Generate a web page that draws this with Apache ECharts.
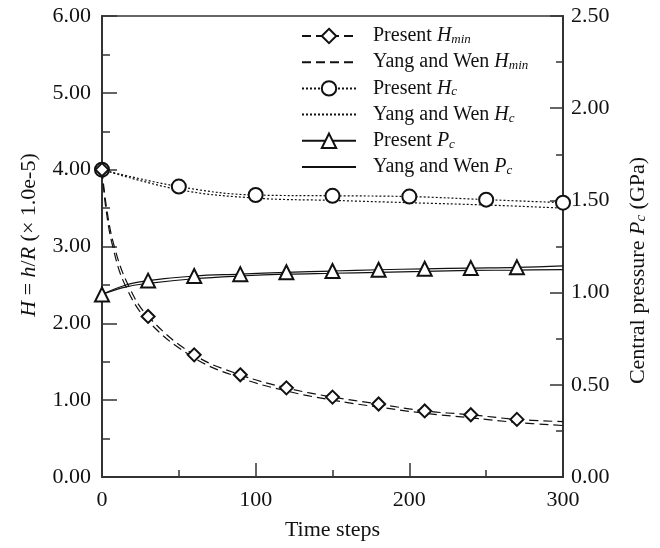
<!DOCTYPE html>
<html>
<head>
<meta charset="utf-8">
<script src="https://cdn.jsdelivr.net/npm/echarts@6/dist/echarts.min.js"></script>
<style>
  html, body { margin: 0; padding: 0; background: #fff; }
  #main { width: 660px; height: 548px; }
</style>
</head>
<body>
<div id="main"></div>
<script>
// 数据
var hminPresentT = [0, 3, 8, 17, 30, 60, 90, 120, 150, 180, 210, 240, 270, 300];
var hminPresent  = [4.00, 3.50, 3.00, 2.50, 2.09, 1.59, 1.33, 1.16, 1.04, 0.95, 0.86, 0.81, 0.75, 0.72];
var hminMarkT    = [0, 30, 60, 90, 120, 150, 180, 210, 240, 270];

var hminYangT = [0, 2.5, 7, 15, 30, 60, 90, 120, 150, 180, 210, 240, 270, 300];
var hminYang  = [4.00, 3.50, 3.00, 2.50, 2.03, 1.55, 1.29, 1.12, 1.00, 0.91, 0.83, 0.77, 0.71, 0.67];

var hcPresentT = [0, 50, 100, 150, 200, 250, 300];
var hcPresent  = [4.00, 3.78, 3.67, 3.66, 3.65, 3.61, 3.57];

var hcYangT = [0, 50, 100, 150, 200, 250, 300];
var hcYang  = [4.00, 3.74, 3.63, 3.60, 3.57, 3.54, 3.50];

var pcPresentT = [0, 15, 30, 60, 90, 120, 150, 180, 210, 240, 270, 300];
var pcPresent  = [0.99, 1.04, 1.065, 1.09, 1.10, 1.11, 1.117, 1.124, 1.129, 1.133, 1.137, 1.145];
var pcMarkT    = [0, 30, 60, 90, 120, 150, 180, 210, 240, 270];

var pcYangT = [0, 15, 30, 60, 90, 120, 150, 180, 210, 240, 270, 300];
var pcYang  = [0.99, 1.03, 1.05, 1.075, 1.09, 1.10, 1.105, 1.11, 1.115, 1.12, 1.122, 1.125];

var xTicks = [0, 100, 200, 300];

var FONT = 'Liberation Serif';
var INK = '#111';

function pairs(ts, vs, markT, sym) {
    return ts.map(function (t, i) {
        var item = { value: [t, vs[i]] };
        if (markT) item.symbol = markT.indexOf(t) >= 0 ? sym : 'none';
        return item;
    });
}

function richText(size) {
    return {
        i: { fontFamily: FONT, fontStyle: 'italic', fontSize: size, color: INK },
        s: { fontFamily: FONT, fontStyle: 'italic', fontSize: Math.round(size * 0.66), color: INK, verticalAlign: 'bottom', lineHeight: 12 }
    };
}

var legendLabels = {
    'Present Hmin': 'Present {i|H}{s|min}',
    'Yang and Wen Hmin': 'Yang and Wen {i|H}{s|min}',
    'Present Hc': 'Present {i|H}{s|c}',
    'Yang and Wen Hc': 'Yang and Wen {i|H}{s|c}',
    'Present Pc': 'Present {i|P}{s|c}',
    'Yang and Wen Pc': 'Yang and Wen {i|P}{s|c}'
};

var myChart = echarts.init(document.getElementById('main'));

var markerStyle = { color: '#fff', borderColor: INK, borderWidth: 2 };
// 无标记的系列: 图例里也不画点
var noMark = { color: 'rgba(0,0,0,0)', borderWidth: 0 };

option = {
    backgroundColor: '#fff',
    animation: false,
    grid: {
        left: 102, right: 97, top: 16, bottom: 71,
        show: true, borderColor: '#333', borderWidth: 1.5, backgroundColor: 'transparent'
    },
    legend: {
        orient: 'vertical',
        left: 296,
        top: 21,
        itemWidth: 54,
        itemHeight: 18,
        itemGap: 6.2,
        data: ['Present Hmin', 'Yang and Wen Hmin', 'Present Hc', 'Yang and Wen Hc', 'Present Pc', 'Yang and Wen Pc'],
        formatter: function (name) { return legendLabels[name]; },
        textStyle: {
            fontFamily: FONT, fontSize: 20, color: INK,
            padding: [0, 0, 0, 12],
            lineHeight: 20,
            rich: richText(20)
        }
    },
    xAxis: {
        type: 'value',
        min: 0, max: 300, interval: 100,
        name: 'Time steps',
        nameLocation: 'middle',
        nameGap: 42,
        nameTextStyle: { fontFamily: FONT, fontSize: 22, color: INK },
        axisLine: { lineStyle: { color: '#333', width: 2 } },
        axisTick: { inside: true, length: 14, lineStyle: { color: '#333', width: 1.5 } },
        minorTick: { show: true, splitNumber: 2, length: 7, lineStyle: { color: '#333', width: 1.5 } },
        splitLine: { show: false },
        axisLabel: {
            fontFamily: FONT, fontSize: 22, color: INK, margin: 12,
            customValues: xTicks
        }
    },
    yAxis: [{
        type: 'value',
        min: 0, max: 6, interval: 1,
        name: '{i|H} = {i|h}/{i|R} (× 1.0e-5)',
        nameLocation: 'middle',
        nameGap: 62,
        nameTextStyle: { fontFamily: FONT, fontSize: 22, color: INK, rich: richText(22), padding: [0, 0, 0, 23] },
        axisLine: { show: true, lineStyle: { color: '#333', width: 2 } },
        axisTick: { inside: true, length: 15, lineStyle: { color: '#333', width: 1.5 } },
        minorTick: { show: true, splitNumber: 2, length: 8, lineStyle: { color: '#333', width: 1.5 } },
        splitLine: { show: false },
        axisLabel: {
            fontFamily: FONT, fontSize: 22, color: INK, margin: 11,
            formatter: function (v) { return v.toFixed(2); }
        }
    }, {
        type: 'value',
        position: 'right',
        min: 0, max: 2.5, interval: 0.5,
        name: 'Central pressure {i|P}{s|c} (GPa)',
        nameLocation: 'middle',
        nameGap: 64,
        nameRotate: 90,
        nameTextStyle: { fontFamily: FONT, fontSize: 22, color: INK, rich: richText(22), padding: [0, 48, 0, 0] },
        axisLine: { show: true, lineStyle: { color: '#333', width: 2 } },
        axisTick: { inside: true, length: 13, lineStyle: { color: '#333', width: 1.5 } },
        minorTick: { show: true, splitNumber: 2, length: 7, lineStyle: { color: '#333', width: 1.5 } },
        splitLine: { show: false },
        axisLabel: {
            fontFamily: FONT, fontSize: 22, color: INK, margin: 8,
            formatter: function (v) { return v.toFixed(2); }
        }
    }],
    series: [{
        name: 'Present Hmin',
        type: 'line',
        smooth: 0.4,
        symbol: 'diamond',
        symbolSize: 13,
        itemStyle: markerStyle,
        lineStyle: { color: INK, width: 1.2, type: [9, 5] },
        data: pairs(hminPresentT, hminPresent, hminMarkT, 'diamond'),
        z: 5
    }, {
        name: 'Yang and Wen Hmin',
        type: 'line',
        smooth: 0.4,
        symbol: 'none',
        itemStyle: noMark,
        lineStyle: { color: INK, width: 1.2, type: [9, 5] },
        data: pairs(hminYangT, hminYang)
    }, {
        name: 'Present Hc',
        type: 'line',
        smooth: 0.4,
        symbol: 'circle',
        symbolSize: 14,
        itemStyle: markerStyle,
        lineStyle: { color: INK, width: 1.2, type: [2, 2] },
        data: pairs(hcPresentT, hcPresent),
        z: 4
    }, {
        name: 'Yang and Wen Hc',
        type: 'line',
        smooth: 0.4,
        symbol: 'none',
        itemStyle: noMark,
        lineStyle: { color: INK, width: 1.2, type: [2, 2] },
        data: pairs(hcYangT, hcYang)
    }, {
        name: 'Present Pc',
        type: 'line',
        yAxisIndex: 1,
        smooth: 0.4,
        symbol: 'triangle',
        symbolSize: 14,
        itemStyle: markerStyle,
        lineStyle: { color: INK, width: 1.2 },
        data: pairs(pcPresentT, pcPresent, pcMarkT, 'triangle'),
        z: 4
    }, {
        name: 'Yang and Wen Pc',
        type: 'line',
        yAxisIndex: 1,
        smooth: 0.4,
        symbol: 'none',
        itemStyle: noMark,
        lineStyle: { color: INK, width: 1.2 },
        data: pairs(pcYangT, pcYang)
    }]
};

myChart.setOption(option);
</script>
</body>
</html>
